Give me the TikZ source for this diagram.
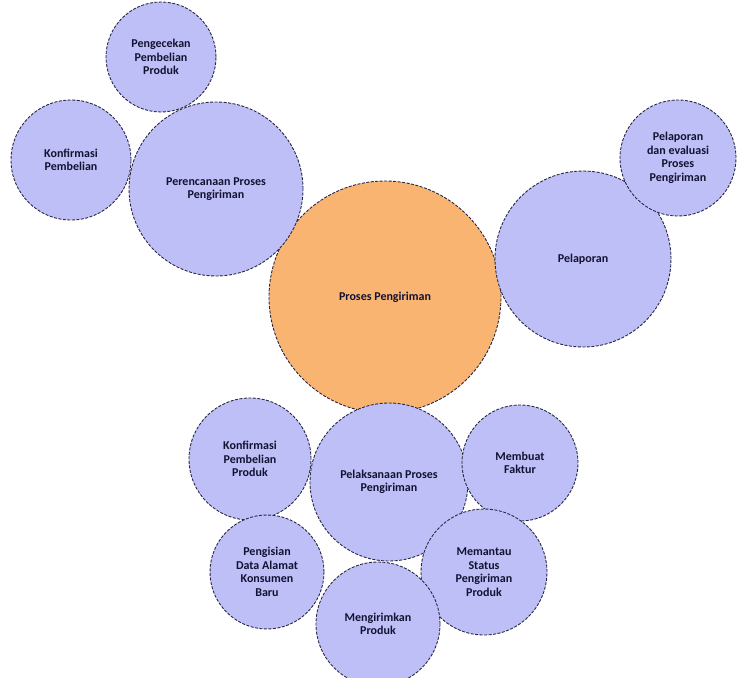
\documentclass[tikz,border=0pt]{standalone}
\usepackage{fontspec}
\setmainfont{Carlito}
\definecolor{lav}{RGB}{191,191,247}
\definecolor{org}{RGB}{249,180,114}
\definecolor{txt}{RGB}{18,18,50}
\definecolor{edge}{RGB}{40,40,70}
\begin{document}
\begin{tikzpicture}[x=1pt,y=-1pt,
  bub/.style={circle,draw=edge,line width=0.9pt,dash pattern=on 3pt off 1.5pt,fill=lav,inner sep=0pt,align=center,text=txt,font=\fontsize{12}{13.5}\selectfont\bfseries},
  core/.style={bub,fill=org}]
\fill[white] (0,0) rectangle (737,678);
\useasboundingbox (0,0) rectangle (737,678);
\node[core,minimum size=232pt] (center) at (385,297) {Proses Pengiriman};
\node[bub,minimum size=174pt] (plan) at (216,189) {Perencanaan Proses\\Pengiriman};
\node[bub,minimum size=110pt] (check) at (161,57) {Pengecekan\\Pembelian\\Produk};
\node[bub,minimum size=120pt] (konf) at (71,160) {Konfirmasi\\Pembelian};
\node[bub,minimum size=176pt] (lap) at (583,259) {Pelaporan};
\node[bub,minimum size=116pt] (eval) at (678,158) {Pelaporan\\dan evaluasi\\Proses\\Pengiriman};
\node[bub,minimum size=158pt] (exec) at (389,482) {Pelaksanaan Proses\\Pengiriman};
\node[bub,minimum size=122pt] (konfp) at (250,459) {Konfirmasi\\Pembelian\\Produk};
\node[bub,minimum size=116pt] (faktur) at (520,463) {Membuat\\Faktur};
\node[bub,minimum size=114pt] (isi) at (267,572) {Pengisian\\Data Alamat\\Konsumen\\Baru};
\node[bub,minimum size=126pt] (pantau) at (484,572) {Memantau\\Status\\Pengiriman\\Produk};
\node[bub,minimum size=124pt] (kirim) at (378,624) {Mengirimkan\\Produk};
\end{tikzpicture}
\end{document}
